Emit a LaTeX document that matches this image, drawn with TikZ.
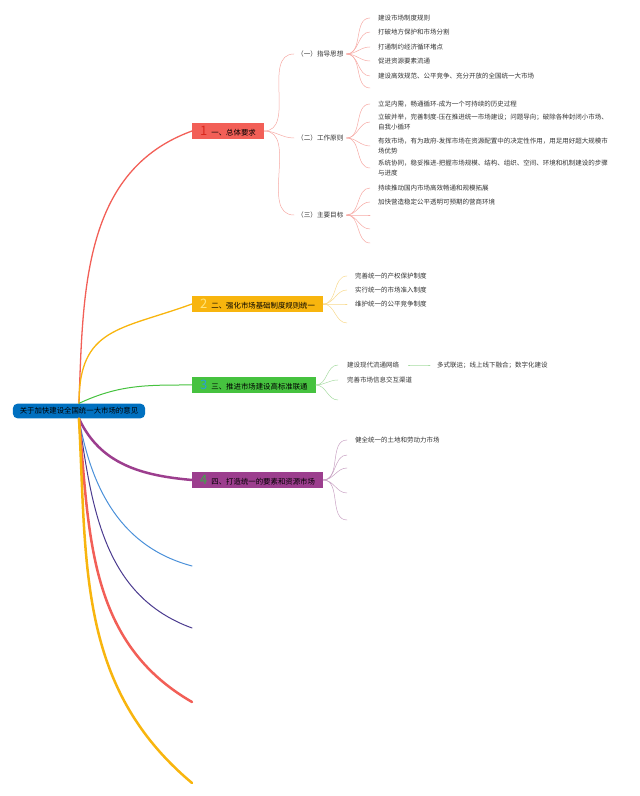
\documentclass[tikz,border=0pt]{standalone}
\usepackage{fontspec}
\setmainfont{Noto Sans CJK SC}
\usepackage[dvipsnames]{xcolor}
\definecolor{rootblue}{HTML}{0070C0}
\definecolor{secred}{HTML}{F25F57}
\definecolor{secyellow}{HTML}{F8B50E}
\definecolor{secgreen}{HTML}{46C23F}
\definecolor{secpurple}{HTML}{9C3E8E}
\definecolor{numred}{HTML}{D8281E}
\definecolor{numyellow}{HTML}{FFE47A}
\definecolor{numblue}{HTML}{2A9CD8}
\definecolor{numgreen}{HTML}{3BAA45}
\definecolor{lineblue}{HTML}{4A90D9}
\definecolor{lineindigo}{HTML}{4B3B8F}
\definecolor{subred}{HTML}{F6A9A4}
\definecolor{subyellow}{HTML}{F8D98C}
\definecolor{subgreen}{HTML}{A6DBA1}
\definecolor{subpurple}{HTML}{C8A2C3}
\definecolor{txt}{HTML}{333333}
\newcommand{\secnum}[2]{{\fontsize{13}{13}\selectfont\color{#1}#2}\hspace{4pt}}

\begin{document}
\begin{tikzpicture}[x=1pt,y=1pt,line cap=round,
  main node/.style={rounded corners=5pt,fill=rootblue,inner xsep=7pt,inner ysep=4pt,font=\fontsize{7.4}{8}\selectfont},
  sec node/.style={fill=#1,anchor=west,minimum height=16pt,inner xsep=8pt,inner ysep=0pt,font=\fontsize{7.4}{8}\selectfont},
  sub node/.style={anchor=west,inner xsep=3pt,inner ysep=1pt,text=txt,font=\fontsize{6.6}{8}\selectfont},
  leaf node/.style={anchor=west,inner xsep=8pt,inner ysep=1pt,text=txt,align=left,font=\fontsize{6.5}{10}\selectfont}]

  \useasboundingbox (0,0) rectangle (640,796);

  \node[main node] (0) at (79,385) {关于加快建设全国统一大市场的意见};

  \node[sec node=secred] (1) at (192,665) {\secnum{numred}{1}一、总体要求};
  \node[sec node=secyellow] (2) at (192,492) {\secnum{numyellow}{2}二、强化市场基础制度规则统一};
  \node[sec node=secgreen] (3) at (192,411) {\secnum{numblue}{3}三、推进市场建设高标准联通};
  \node[sec node=secpurple] (4) at (192,316) {\secnum{numgreen}{4}四、打造统一的要素和资源市场};
  \coordinate (5) at (192,230);
  \coordinate (6) at (192,168);
  \coordinate (7) at (192,94);
  \coordinate (8) at (192,13);

  \node[sub node] (11) at (294,742) {（一）指导思想};
  \node[sub node] (12) at (294,658) {（二）工作原则};
  \node[sub node] (13) at (294,581) {（三）主要目标};

  \node[leaf node] (111) at (370,778) {建设市场制度规则};
  \node[leaf node] (112) at (370,764) {打破地方保护和市场分割};
  \node[leaf node] (113) at (370,749) {打通制约经济循环堵点};
  \node[leaf node] (114) at (370,735) {促进资源要素流通};
  \node[leaf node] (115) at (370,720) {建设高效规范、公平竞争、充分开放的全国统一大市场};
  \coordinate (116) at (370,708);

  \node[leaf node] (121) at (370,692) {立足内需，畅通循环-成为一个可持续的历史过程};
  \node[leaf node] (122) at (370,674) {立破并举，完善制度-压在推进统一市场建设；问题导向；破除各种封闭小市场、\\自我小循环};
  \node[leaf node] (123) at (370,650) {有效市场，有为政府-发挥市场在资源配置中的决定性作用，用足用好超大规模市\\场优势};
  \node[leaf node] (124) at (370,628) {系统协同，稳妥推进-把握市场规模、结构、组织、空间、环境和机制建设的步骤\\与进度};

  \node[leaf node] (131) at (370,608) {持续推动国内市场高效畅通和规模拓展};
  \node[leaf node] (132) at (370,594) {加快营造稳定公平透明可预期的营商环境};
  \coordinate (133) at (370,581);
  \coordinate (134) at (370,567);
  \coordinate (135) at (370,553);

  \node[leaf node] (21) at (347,520) {完善统一的产权保护制度};
  \node[leaf node] (22) at (347,506) {实行统一的市场准入制度};
  \node[leaf node] (23) at (347,492) {维护统一的公平竞争制度};
  \coordinate (24) at (347,473);

  \node[leaf node,inner xsep=9pt] (31) at (338,431) {建设现代流通网络};
  \node[leaf node,inner xsep=7pt] (311) at (430,431) {多式联运；线上线下融合；数字化建设};
  \node[leaf node,inner xsep=9pt] (32) at (338,416) {完善市场信息交互渠道};
  \coordinate (33) at (338,396);

  \node[leaf node] (41) at (347,356) {健全统一的土地和劳动力市场};
  \coordinate (42) at (347,341);
  \coordinate (43) at (347,328);
  \coordinate (44) at (347,303);
  \coordinate (45) at (347,276);

  \path[line width=1.3pt]
    (0.north) edge[secred, out=88, in=200] (1.west)
    (0.north) edge[secyellow, out=90, in=200, looseness=1.3] (2.west)
    (0.north) edge[secgreen, line width=1pt, out=25, in=180] (3.west)
    (0.south) edge[secpurple, line width=2.5pt, out=-65, in=175] (4.west)
    (0.south) edge[lineblue, line width=1pt, out=-80, in=165] (5)
    (0.south) edge[lineindigo, line width=1pt, out=-82, in=160] (6)
    (0.south) edge[secred, line width=2.5pt, out=-85, in=150] (7)
    (0.south) edge[secyellow, line width=2.5pt, out=-87, in=140] (8)
    ;

  \path[subred, line width=0.5pt, out=0, in=180]
    (1.east) edge (11.west)
    (1.east) edge (12.west)
    (1.east) edge (13.west)
    (11.east) edge (111.west)
    (11.east) edge (112.west)
    (11.east) edge (113.west)
    (11.east) edge (114.west)
    (11.east) edge (115.west)
    (11.east) edge (116)
    (12.east) edge (121.west)
    (12.east) edge (122.west)
    (12.east) edge (123.west)
    (12.east) edge (124.west)
    (13.east) edge (131.west)
    (13.east) edge (132.west)
    (13.east) edge (133)
    (13.east) edge (134)
    (13.east) edge (135)
    ;

  \path[subyellow, line width=0.5pt, out=0, in=180]
    (2.east) edge (21.west)
    (2.east) edge (22.west)
    (2.east) edge (23.west)
    (2.east) edge (24)
    ;

  \path[subgreen, line width=0.5pt, out=0, in=180]
    (3.east) edge (31.west)
    (3.east) edge (32.west)
    (3.east) edge (33)
    (31.east) edge[out=0, in=180] (311.west)
    ;

  \path[subpurple, line width=0.5pt, out=0, in=180]
    (4.east) edge (41.west)
    (4.east) edge (42)
    (4.east) edge (43)
    (4.east) edge (44)
    (4.east) edge (45)
    ;
\end{tikzpicture}
\end{document}
